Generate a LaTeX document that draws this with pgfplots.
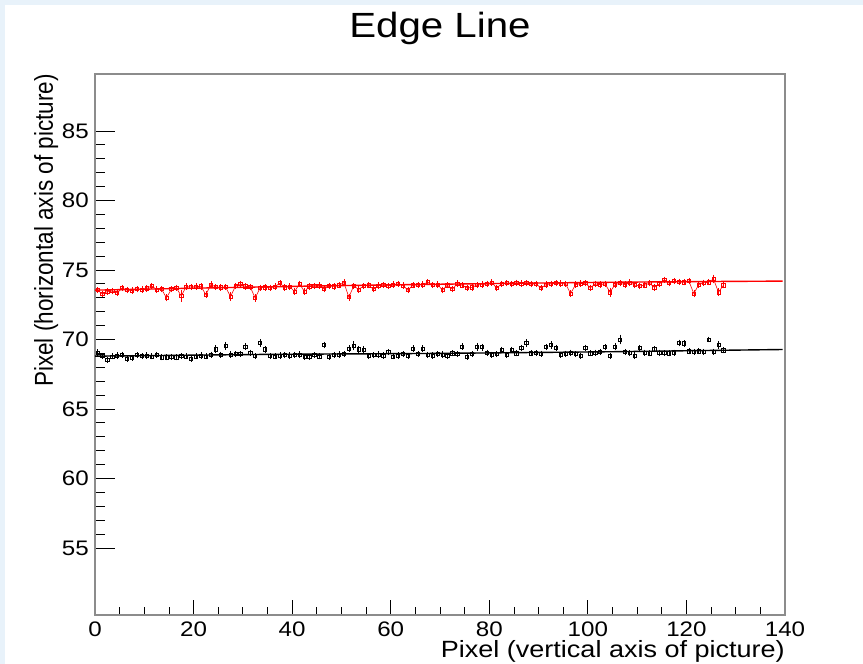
\documentclass[border=0pt]{standalone}
\usepackage{fontspec}
\setmainfont{Liberation Sans}
\newfontfamily\wide{Liberation Sans}[FakeStretch=1.15]
\usepackage{graphicx}
\usepackage{pgfplots}
\usepackage{pgfplotstable}
\pgfplotsset{compat=1.18}
\definecolor{bgblue}{RGB}{232,242,250}
\definecolor{framegray}{RGB}{140,140,140}

% red series: x, y, error
\pgfplotstableread{
x y e
0.5 73.56 0.07
1.5 73.27 0.07
2.5 73.45 0.07
3.5 73.48 0.07
4.5 73.35 0.07
5.5 73.70 0.07
6.5 73.55 0.07
7.5 73.52 0.07
8.5 73.62 0.07
9.5 73.60 0.07
10.5 73.68 0.07
11.5 73.85 0.07
12.5 73.60 0.07
13.5 73.62 0.07
14.5 73.00 0.10
15.5 73.62 0.07
16.5 73.72 0.07
17.5 73.13 0.25
18.5 73.80 0.07
19.5 73.78 0.07
20.5 73.80 0.07
21.5 73.82 0.07
22.5 73.22 0.08
23.5 73.95 0.07
24.5 73.78 0.07
25.5 73.75 0.07
26.5 73.78 0.07
27.5 73.08 0.15
28.5 73.85 0.07
29.5 74.00 0.07
30.5 73.82 0.07
31.5 73.78 0.07
32.5 72.98 0.10
33.5 73.72 0.07
34.5 73.75 0.07
35.5 73.72 0.07
36.5 73.80 0.07
37.5 74.05 0.07
38.5 73.75 0.07
39.5 73.80 0.07
40.5 73.45 0.08
41.5 74.00 0.07
42.5 73.45 0.08
43.5 73.82 0.07
44.5 73.85 0.07
45.5 73.88 0.07
46.5 73.62 0.08
47.5 73.85 0.07
48.5 73.82 0.07
49.5 73.90 0.07
50.5 74.10 0.07
51.5 73.05 0.10
52.5 73.85 0.07
53.5 73.60 0.08
54.5 73.85 0.07
55.5 73.90 0.07
56.5 73.62 0.08
57.5 73.88 0.07
58.5 73.92 0.07
59.5 73.85 0.07
60.5 73.95 0.07
61.5 74.00 0.07
62.5 73.88 0.07
63.5 73.55 0.07
64.5 73.90 0.07
65.5 73.92 0.07
66.5 73.95 0.07
67.5 74.12 0.07
68.5 73.92 0.07
69.5 73.95 0.07
70.5 73.56 0.08
71.5 73.90 0.07
72.5 73.62 0.08
73.5 74.02 0.07
74.5 73.90 0.07
75.5 73.70 0.07
76.5 73.75 0.07
77.5 73.92 0.07
78.5 73.95 0.07
79.5 74.00 0.07
80.5 74.10 0.07
81.5 73.70 0.07
82.5 74.00 0.07
83.5 74.05 0.07
84.5 73.98 0.07
85.5 74.08 0.07
86.5 74.02 0.07
87.5 74.05 0.07
88.5 73.98 0.07
89.5 74.00 0.07
90.5 73.70 0.07
91.5 73.95 0.07
92.5 74.00 0.07
93.5 74.05 0.07
94.5 74.02 0.07
95.5 74.00 0.07
96.5 73.30 0.10
97.5 73.95 0.07
98.5 74.02 0.07
99.5 74.05 0.07
100.5 73.72 0.07
101.5 74.00 0.07
102.5 73.95 0.07
103.5 74.00 0.07
104.5 73.40 0.18
105.5 73.95 0.07
106.5 74.05 0.07
107.5 73.95 0.07
108.5 74.10 0.07
109.5 73.92 0.07
110.5 73.85 0.07
111.5 73.90 0.07
112.5 74.05 0.07
113.5 73.75 0.08
114.5 74.00 0.07
115.5 74.30 0.07
116.5 74.05 0.07
117.5 74.20 0.07
118.5 74.15 0.07
119.5 74.12 0.07
120.5 74.20 0.07
121.5 73.30 0.12
122.5 73.95 0.07
123.5 74.08 0.07
124.5 74.12 0.07
125.5 74.35 0.15
126.5 73.40 0.12
127.5 73.90 0.07
}\redtab

% black series: x, y, error
\pgfplotstableread{
x y e
0.5 69.05 0.08
1.5 68.80 0.06
2.5 68.55 0.06
3.5 68.78 0.06
4.5 68.85 0.06
5.5 68.90 0.06
6.5 68.62 0.06
7.5 68.70 0.06
8.5 68.88 0.06
9.5 68.80 0.06
10.5 68.85 0.06
11.5 68.78 0.06
12.5 68.90 0.06
13.5 68.72 0.06
14.5 68.72 0.06
15.5 68.75 0.06
16.5 68.72 0.06
17.5 68.80 0.06
18.5 68.78 0.06
19.5 68.62 0.06
20.5 68.78 0.06
21.5 68.85 0.06
22.5 68.78 0.06
23.5 68.90 0.06
24.5 69.30 0.12
25.5 68.90 0.06
26.5 69.55 0.12
27.5 68.92 0.06
28.5 68.95 0.06
29.5 68.95 0.06
30.5 69.50 0.08
31.5 69.05 0.06
32.5 68.80 0.06
33.5 69.75 0.12
34.5 69.30 0.08
35.5 68.80 0.06
36.5 68.78 0.06
37.5 68.85 0.06
38.5 68.88 0.06
39.5 68.85 0.06
40.5 68.90 0.06
41.5 68.92 0.06
42.5 68.75 0.06
43.5 68.75 0.06
44.5 68.88 0.06
45.5 68.78 0.06
46.5 69.60 0.08
47.5 68.75 0.06
48.5 68.90 0.06
49.5 68.92 0.06
50.5 68.95 0.06
51.5 69.35 0.08
52.5 69.55 0.15
53.5 69.30 0.08
54.5 69.28 0.08
55.5 68.82 0.06
56.5 68.88 0.06
57.5 68.92 0.06
58.5 68.85 0.06
59.5 69.10 0.06
60.5 68.78 0.06
61.5 68.85 0.06
62.5 68.95 0.06
63.5 68.82 0.06
64.5 69.35 0.07
65.5 68.95 0.06
66.5 69.35 0.07
67.5 68.90 0.06
68.5 68.85 0.06
69.5 68.95 0.06
70.5 68.92 0.06
71.5 68.80 0.06
72.5 69.00 0.06
73.5 68.95 0.06
74.5 69.50 0.07
75.5 68.75 0.06
76.5 68.95 0.06
77.5 69.48 0.12
78.5 69.45 0.10
79.5 69.05 0.06
80.5 68.90 0.06
81.5 68.95 0.06
82.5 69.25 0.07
83.5 68.90 0.06
84.5 69.25 0.07
85.5 69.00 0.06
86.5 69.40 0.07
87.5 69.75 0.12
88.5 69.00 0.06
89.5 69.02 0.06
90.5 68.98 0.06
91.5 69.45 0.07
92.5 69.60 0.12
93.5 69.40 0.08
94.5 68.90 0.06
95.5 68.98 0.06
96.5 69.05 0.06
97.5 68.95 0.06
98.5 68.82 0.06
99.5 69.40 0.07
100.5 69.00 0.06
101.5 69.05 0.06
102.5 69.10 0.06
103.5 69.45 0.07
104.5 68.80 0.06
105.5 69.50 0.08
106.5 70.00 0.20
107.5 69.10 0.06
108.5 69.02 0.06
109.5 68.85 0.06
110.5 69.38 0.08
111.5 69.05 0.06
112.5 69.00 0.06
113.5 69.30 0.07
114.5 69.05 0.06
115.5 69.02 0.06
116.5 69.00 0.06
117.5 69.05 0.06
118.5 69.75 0.08
119.5 69.72 0.08
120.5 69.15 0.06
121.5 69.10 0.06
122.5 69.15 0.06
123.5 69.10 0.06
124.5 70.00 0.05
125.5 69.12 0.06
126.5 69.60 0.10
127.5 69.22 0.06
}\blacktab

\begin{document}
\begin{tikzpicture}
\fill[bgblue] (-95pt,-49pt) rectangle (768pt,615pt);
\fill[white] (-90pt,-49pt) rectangle (768pt,610pt);
\begin{axis}[name=ax, at={(0,0)}, anchor=south west,
  scale only axis, width=690pt, height=541pt,
  xmin=0, xmax=140, ymin=50.18, ymax=89.1,
  xtick={0,20,...,140}, ytick={55,60,...,85},
  minor x tick num=3, minor y tick num=4,
  xtick pos=bottom, ytick pos=left, tick align=inside,
  axis line style={framegray, line width=1.2pt},
  every tick/.style={black, line width=0.8pt},
  xtick style={/pgfplots/major tick length=15pt, /pgfplots/minor tick length=8pt},
  ytick style={/pgfplots/major tick length=20pt, /pgfplots/minor tick length=10pt},
  /pgf/number format/assume math mode=true,
  ticklabel style={font=\wide\fontsize{21}{21}\selectfont},
  xticklabel style={anchor=north, inner sep=0pt, yshift=-7pt},
  yticklabel style={anchor=east, inner sep=0pt, xshift=-6pt},
  clip=true]
% red measured points, joined
\addplot[red, line width=0.6pt, mark=square, mark size=1.6pt,
  error bars/.cd, y dir=both, y explicit,
  error bar style={red, line width=0.6pt},
  error mark options={red, mark size=2.2pt, line width=0.6pt}]
  table[x=x, y=y, y error=e] {\redtab};
% black measured points
\addplot[black, only marks, mark=square, mark size=1.6pt, mark options={line width=0.6pt},
  error bars/.cd, y dir=both, y explicit,
  error bar style={black, line width=0.6pt},
  error mark options={black, mark size=2.2pt, line width=0.6pt}]
  table[x=x, y=y, y error=e] {\blacktab};
% fitted curves
\addplot[red, line width=1.4pt, smooth, no marks] coordinates
  {(0,73.55) (20,73.69) (40,73.82) (60,73.93) (80,74.02) (100,74.10) (120,74.16) (139.5,74.2)};
\addplot[black, line width=1.4pt, no marks] coordinates
  {(0,68.8) (35,68.93) (70,69.0) (105,69.12) (139.5,69.28)};
\end{axis}
\node[anchor=base, font=\wide\fontsize{35}{35}\selectfont] at ([yshift=36pt]ax.north) {Edge Line};
\node[anchor=base east, font=\wide\fontsize{23.5}{23.5}\selectfont, inner sep=0pt]
  at ([yshift=-43pt]ax.south east) {Pixel (vertical axis of picture)};
\node[anchor=base east, rotate=90, font=\fontsize{22.5}{22.5}\selectfont, inner sep=0pt]
  at ([xshift=-42pt]ax.north west) {\scalebox{1}[1.15]{Pixel (horizontal axis of picture)}};
\end{tikzpicture}
\end{document}
